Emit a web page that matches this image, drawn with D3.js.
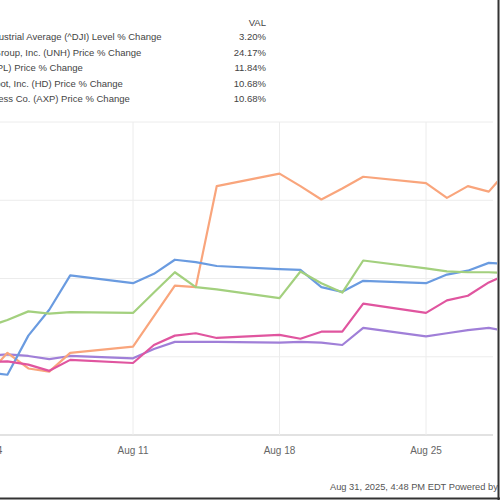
<!DOCTYPE html>
<html>
<head>
<meta charset="utf-8">
<script src="https://cdn.jsdelivr.net/npm/d3@7/dist/d3.min.js"></script>
<style>
  html, body { margin: 0; padding: 0; background: #fff; }
  svg { display: block; font-family: "Liberation Sans", Arial, sans-serif; }
</style>
</head>
<body>
<div id="chart"></div>
<script>
// Trading days (Aug 2025) and % change since Jul 31 close
const DATES = ['2025-08-04', '2025-08-05', '2025-08-06', '2025-08-07', '2025-08-08',
  '2025-08-11', '2025-08-12', '2025-08-13', '2025-08-14', '2025-08-15',
  '2025-08-18', '2025-08-19', '2025-08-20', '2025-08-21', '2025-08-22',
  '2025-08-25', '2025-08-26', '2025-08-27', '2025-08-28', '2025-08-29'];

const DJI = [0.1, 0.3, 0.1, -0.3, 0.1, -0.2, 1.0, 1.9, 1.9, 1.9, 1.8, 1.9, 1.8, 1.5, 3.7, 2.6, 3.0, 3.4, 3.7, 3.20];
const UNH = [-2.5, 0.5, -1.5, -1.9, 0.5, 1.3, 5.2, 9.1, 8.9, 21.8, 23.4, 21.8, 20.1, 21.5, 23.0, 22.2, 20.3, 21.8, 21.1, 24.17];
const AAPL = [-2.0, -2.3, 2.7, 6.0, 10.4, 9.4, 10.6, 12.4, 12.1, 11.6, 11.2, 11.1, 8.9, 8.3, 9.7, 9.4, 10.5, 11.0, 12.0, 11.84];
const HD = [3.8, 4.7, 5.8, 5.5, 5.7, 5.6, 8.2, 10.8, 8.9, 8.6, 7.5, 10.9, 9.4, 8.2, 12.3, 11.3, 10.9, 10.8, 10.8, 10.68];
const AXP = [-0.7, -0.6, -1.0, -1.8, -0.4, -0.8, 1.5, 2.7, 3.0, 2.4, 2.8, 2.3, 3.2, 3.2, 6.8, 5.6, 7.2, 7.8, 9.5, 10.68];

const SERIES_NAMES = [
  'Dow Jones Industrial Average (^DJI) Level % Change',
  'UnitedHealth Group, Inc. (UNH) Price % Change',
  'Apple Inc. (AAPL) Price % Change',
  'The Home Depot, Inc. (HD) Price % Change',
  'American Express Co. (AXP) Price % Change'
];
const SERIES_VALUES = ['3.20%', '24.17%', '11.84%', '10.68%', '10.68%'];
const SERIES_DATA = [DJI, UNH, AAPL, HD, AXP];
const SERIES_COLORS = ['#a07fd8', '#f9a57c', '#6a9be0', '#a3d07e', '#e0559f'];

const X_TICKS = ['2025-08-04', '2025-08-11', '2025-08-18', '2025-08-25'];
const Y_TICKS = [-10, 0, 10, 20, 30];
const FOOTER = 'Aug 31, 2025, 4:48 PM EDT  Powered by YCHARTS';

const W = 500, H = 500;
const parse = d3.timeParse('%Y-%m-%d');
const fmt = d3.timeFormat('%b %d');

const svg = d3.select('#chart').append('svg')
  .attr('width', W).attr('height', H);

// calendar-day time scale (weekends leave gaps)
const x = d3.scaleTime()
  .domain([parse('2025-08-11'), parse('2025-08-25')])
  .range([133, 426]);
const y = d3.scaleLinear().domain([-10, 30]).range([435, 122]);
const plotLeft = -20, plotRight = 493;

svg.append('defs').append('clipPath').attr('id', 'plot-clip')
  .append('rect').attr('x', plotLeft).attr('y', 0)
  .attr('width', 497 - plotLeft).attr('height', H);

// grid
svg.append('g').selectAll('line.hgrid').data(Y_TICKS)
  .join('line')
  .attr('x1', plotLeft).attr('x2', plotRight)
  .attr('y1', d => y(d)).attr('y2', d => y(d))
  .attr('stroke', d => d === -10 ? '#d9d9d9' : '#ececec')
  .attr('stroke-width', d => d === -10 ? 1.5 : 1);

svg.append('g').selectAll('line.vgrid').data(X_TICKS)
  .join('line')
  .attr('x1', d => x(parse(d))).attr('x2', d => x(parse(d)))
  .attr('y1', y(30)).attr('y2', y(-10))
  .attr('stroke', '#ececec');

// x labels
svg.append('g').selectAll('text.xl').data(X_TICKS)
  .join('text')
  .attr('x', d => x(parse(d)))
  .attr('y', 454)
  .attr('text-anchor', 'middle')
  .attr('font-size', '10px')
  .attr('fill', '#666')
  .text(d => fmt(parse(d)));

// lines
const line = d3.line()
  .x((d, i) => x(parse(DATES[i])))
  .y(d => y(d));

const lines = svg.append('g').attr('clip-path', 'url(#plot-clip)');
SERIES_DATA.forEach((s, i) => {
  lines.append('path')
    .datum(s)
    .attr('d', line)
    .attr('fill', 'none')
    .attr('stroke', SERIES_COLORS[i])
    .attr('stroke-width', 2.2)
    .attr('stroke-linejoin', 'round');
});

// legend (left part cut off like the reference)
const legend = svg.append('g').attr('font-size', '9.5px').attr('fill', '#444');
legend.append('text')
  .attr('x', 266).attr('y', 26)
  .attr('text-anchor', 'end')
  .text('VAL');
SERIES_NAMES.forEach((name, i) => {
  const yy = 40 + i * 15.5;
  legend.append('text').attr('x', -64).attr('y', yy).text(name);
  legend.append('text').attr('x', 266).attr('y', yy)
    .attr('text-anchor', 'end').text(SERIES_VALUES[i]);
});

// footer
svg.append('text')
  .attr('x', 330).attr('y', 490)
  .attr('font-size', '9.3px')
  .attr('fill', '#555')
  .text(FOOTER);

// dark frame on right/bottom edge
svg.append('line').attr('x1', 498.5).attr('x2', 498.5).attr('y1', 0).attr('y2', H)
  .attr('stroke', '#333').attr('stroke-width', 2);
svg.append('line').attr('x1', 0).attr('x2', W).attr('y1', 498.5).attr('y2', 498.5)
  .attr('stroke', '#333').attr('stroke-width', 2);
</script>
</body>
</html>
